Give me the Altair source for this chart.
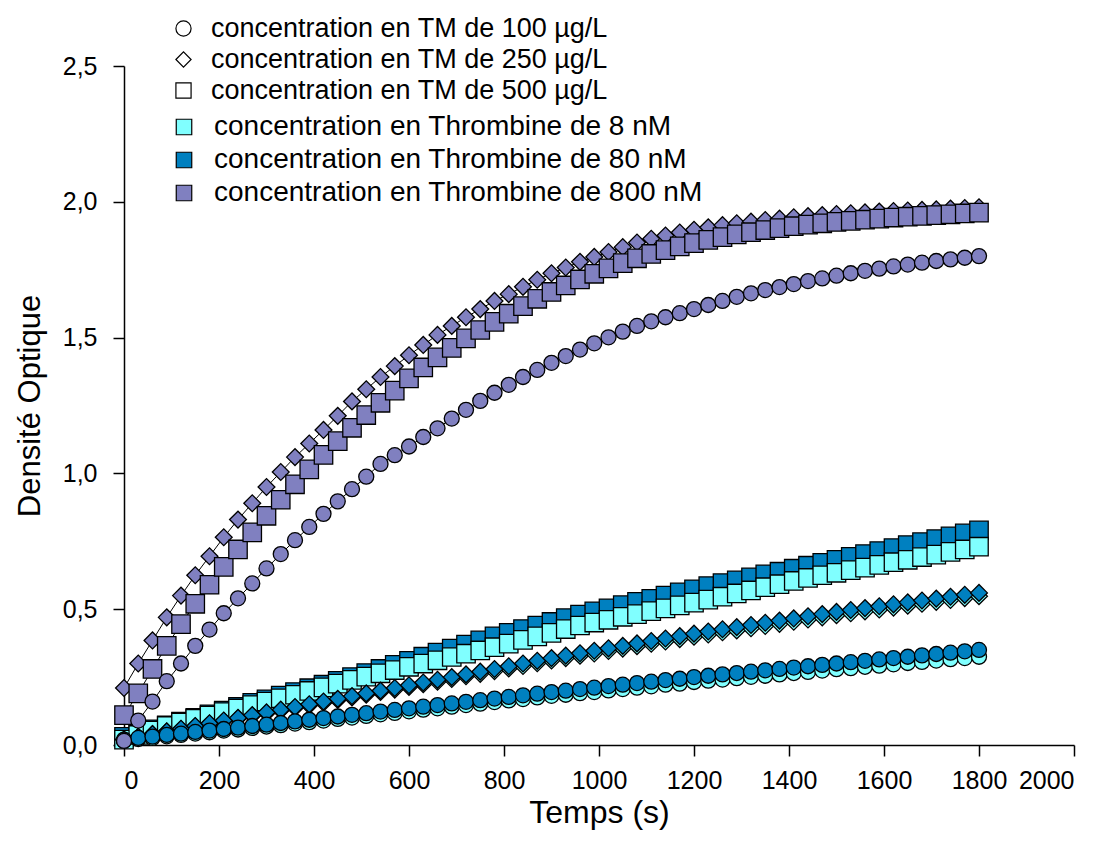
import altair as alt
import pandas as pd

times = list(range(0, 1801, 30))

tm_labels = ["concentration en TM de 100 µg/L",
             "concentration en TM de 250 µg/L",
             "concentration en TM de 500 µg/L"]
thr_labels = ["concentration en Thrombine de 8 nM",
              "concentration en Thrombine de 80 nM",
              "concentration en Thrombine de 800 nM"]

# Thrombine 800 nM
p100 = [0.015, 0.09, 0.16, 0.235, 0.30, 0.365, 0.425, 0.485, 0.54, 0.595, 0.65, 0.703, 0.754, 0.803, 0.851,
        0.897, 0.942, 0.988, 1.035, 1.067, 1.099, 1.134, 1.166, 1.202, 1.234, 1.267, 1.297, 1.326, 1.355,
        1.381, 1.407, 1.432, 1.456, 1.479, 1.501, 1.522, 1.543, 1.56, 1.575, 1.59, 1.605, 1.62, 1.635, 1.65,
        1.663, 1.675, 1.686, 1.697, 1.708, 1.718, 1.728, 1.737, 1.746, 1.754, 1.762, 1.769, 1.776, 1.782,
        1.788, 1.794, 1.80]
p250 = [0.21, 0.30, 0.385, 0.47, 0.55, 0.625, 0.695, 0.765, 0.83, 0.89, 0.95, 1.005, 1.06, 1.11, 1.16,
        1.212, 1.265, 1.31, 1.355, 1.395, 1.435, 1.473, 1.51, 1.543, 1.575, 1.605, 1.635, 1.66, 1.687, 1.713,
        1.737, 1.758, 1.779, 1.797, 1.815, 1.833, 1.85, 1.864, 1.876, 1.887, 1.897, 1.906, 1.914, 1.921,
        1.927, 1.933, 1.938, 1.943, 1.947, 1.951, 1.955, 1.958, 1.961, 1.964, 1.966, 1.968, 1.97, 1.972,
        1.975, 1.977, 1.98]
p500 = [0.11, 0.19, 0.28, 0.365, 0.445, 0.52, 0.59, 0.656, 0.72, 0.783, 0.844, 0.903, 0.96, 1.015, 1.068,
        1.119, 1.168, 1.215, 1.26, 1.305, 1.35, 1.39, 1.427, 1.462, 1.497, 1.528, 1.558, 1.588, 1.616,
        1.643, 1.668, 1.692, 1.714, 1.735, 1.755, 1.774, 1.792, 1.808, 1.822, 1.836, 1.848, 1.86, 1.87,
        1.88, 1.888, 1.896, 1.903, 1.91, 1.916, 1.921, 1.926, 1.93, 1.934, 1.938, 1.942, 1.945, 1.948,
        1.951, 1.954, 1.957, 1.96]
# Thrombine 80 nM
b100 = [0.02, 0.026, 0.031, 0.037, 0.042, 0.048, 0.053, 0.059, 0.064, 0.07, 0.075, 0.081, 0.087, 0.093,
        0.099, 0.105, 0.111, 0.117, 0.123, 0.129, 0.135, 0.141, 0.147, 0.153, 0.159, 0.165, 0.171, 0.177,
        0.183, 0.189, 0.195, 0.2, 0.206, 0.211, 0.217, 0.222, 0.228, 0.233, 0.239, 0.244, 0.25, 0.255,
        0.26, 0.265, 0.27, 0.275, 0.28, 0.285, 0.29, 0.295, 0.30, 0.305, 0.31, 0.315, 0.32, 0.325, 0.33,
        0.335, 0.34, 0.345, 0.35]
b250 = [0.02, 0.03, 0.04, 0.05, 0.06, 0.07, 0.08, 0.09, 0.10, 0.11, 0.12, 0.13, 0.14, 0.15, 0.16, 0.17,
        0.18, 0.19, 0.20, 0.21, 0.22, 0.23, 0.24, 0.25, 0.26, 0.27, 0.28, 0.29, 0.30, 0.31, 0.32, 0.329,
        0.338, 0.347, 0.356, 0.365, 0.374, 0.383, 0.392, 0.401, 0.41, 0.418, 0.426, 0.434, 0.442, 0.45,
        0.458, 0.466, 0.474, 0.482, 0.49, 0.497, 0.504, 0.511, 0.518, 0.525, 0.532, 0.539, 0.546, 0.553,
        0.56]
b500 = [0.03, 0.045, 0.058, 0.072, 0.086, 0.10, 0.113, 0.127, 0.14, 0.155, 0.168, 0.182, 0.195, 0.209,
        0.222, 0.236, 0.25, 0.265, 0.28, 0.295, 0.31, 0.325, 0.34, 0.355, 0.37, 0.385, 0.40, 0.413, 0.427,
        0.44, 0.453, 0.467, 0.48, 0.492, 0.503, 0.515, 0.527, 0.538, 0.55, 0.562, 0.573, 0.585, 0.596,
        0.606, 0.617, 0.628, 0.638, 0.649, 0.66, 0.671, 0.682, 0.693, 0.703, 0.714, 0.725, 0.736, 0.747,
        0.758, 0.768, 0.779, 0.79]
# Thrombine 8 nM
c100 = [0.016, 0.022, 0.026, 0.032, 0.037, 0.042, 0.047, 0.053, 0.057, 0.063, 0.068, 0.073, 0.079, 0.084,
        0.090, 0.096, 0.101, 0.107, 0.113, 0.118, 0.124, 0.130, 0.135, 0.141, 0.147, 0.152, 0.158, 0.164,
        0.169, 0.175, 0.181, 0.185, 0.191, 0.195, 0.201, 0.206, 0.211, 0.216, 0.222, 0.226, 0.232, 0.237,
        0.241, 0.246, 0.251, 0.255, 0.260, 0.265, 0.269, 0.274, 0.279, 0.283, 0.288, 0.292, 0.297, 0.302,
        0.306, 0.311, 0.316, 0.320, 0.325]
c250 = [0.02, 0.03, 0.04, 0.049, 0.059, 0.069, 0.079, 0.088, 0.098, 0.108, 0.117, 0.127, 0.137, 0.146,
        0.156, 0.166, 0.175, 0.185, 0.195, 0.204, 0.214, 0.224, 0.233, 0.243, 0.253, 0.262, 0.272, 0.282,
        0.291, 0.301, 0.311, 0.32, 0.329, 0.337, 0.346, 0.355, 0.364, 0.373, 0.381, 0.39, 0.399, 0.407,
        0.415, 0.422, 0.43, 0.438, 0.446, 0.454, 0.462, 0.47, 0.478, 0.485, 0.492, 0.499, 0.506, 0.513,
        0.52, 0.527, 0.534, 0.541, 0.548]
c500 = [0.02, 0.037, 0.053, 0.07, 0.083, 0.096, 0.108, 0.121, 0.134, 0.147, 0.16, 0.172, 0.185, 0.199,
        0.212, 0.226, 0.24, 0.252, 0.264, 0.276, 0.288, 0.30, 0.312, 0.324, 0.336, 0.348, 0.36, 0.373,
        0.387, 0.40, 0.413, 0.427, 0.44, 0.451, 0.461, 0.472, 0.482, 0.493, 0.503, 0.514, 0.524, 0.535,
        0.546, 0.558, 0.569, 0.581, 0.592, 0.604, 0.615, 0.625, 0.634, 0.644, 0.653, 0.663, 0.673, 0.682,
        0.692, 0.701, 0.711, 0.72, 0.73]

# drawing order (bottom first): (values, TM index, Thrombine index)
series = [
    (b500, 2, 1), (c500, 2, 0), (c250, 1, 0), (b250, 1, 1),
    (c100, 0, 0), (b100, 0, 1), (p250, 1, 2), (p500, 2, 2), (p100, 0, 2),
]

rows = []
order = 0
for sid, (vals, tmi, thi) in enumerate(series):
    assert len(vals) == len(times)
    for t, v in zip(times, vals):
        rows.append({"t": t, "od": v, "tm": tm_labels[tmi], "tmsz": str(tmi),
                     "thr": thr_labels[thi], "sid": sid, "ord": order})
        order += 1
df = pd.DataFrame(rows)

FONT = "Liberation Sans, Arial, Helvetica, sans-serif"

x = alt.X("t:Q", scale=alt.Scale(domain=[0, 2000], nice=False),
          axis=alt.Axis(title="Temps (s)", values=list(range(0, 2001, 200)), format="d",
                        grid=False, tickSize=11, labelPadding=12, titlePadding=4,
                        titleFontSize=32))
y = alt.Y("od:Q", scale=alt.Scale(domain=[0, 2.5], nice=False),
          axis=alt.Axis(title="Densité Optique", values=[0, 0.5, 1.0, 1.5, 2.0, 2.5],
                        labelExpr="replace(format(datum.value, '.1f'), '.', ',')",
                        grid=False, tickSize=11, labelPadding=16, titlePadding=16,
                        titleFontSize=31))

lines = alt.Chart(df).mark_line(color="black", strokeWidth=1).encode(
    x=x, y=y, detail="sid:N", order="t:Q")

points = alt.Chart(df).mark_point(filled=True, stroke="black", strokeWidth=1.3, opacity=1).encode(
    x=x, y=y,
    shape=alt.Shape("tm:N", scale=alt.Scale(domain=tm_labels, range=["circle", "diamond", "square"]),
                    legend=alt.Legend(title=None, orient="none", legendX=46, legendY=-51,
                                      symbolFillColor="white", symbolStrokeColor="black",
                                      symbolStrokeWidth=1.2, symbolSize=230, rowPadding=3,
                                      labelOffset=14, labelFontSize=27)),
    fill=alt.Fill("thr:N", scale=alt.Scale(domain=thr_labels, range=["#80FFFF", "#0080C0", "#8080C0"]),
                  legend=alt.Legend(title=None, orient="none", legendX=46, legendY=47,
                                    symbolType="square", symbolStrokeColor="black",
                                    symbolStrokeWidth=1.2, symbolSize=240, rowPadding=5,
                                    labelOffset=16, labelFontSize=28)),
    size=alt.Size("tmsz:N", scale=alt.Scale(domain=["0", "1", "2"], range=[225, 340, 190]), legend=None),
    order=alt.Order("ord:Q"),
)

chart = (lines + points).properties(
    width=950, height=679,
    autosize=alt.AutoSizeParams(type="none"),
    padding={"left": 116, "top": 58, "right": 15, "bottom": 90},
).configure_view(stroke=None).configure_axis(
    domainColor="black", domainWidth=1.5, tickColor="black", tickWidth=1.5,
    labelFont=FONT, labelFontSize=25, labelColor="black",
    titleFont=FONT, titleFontWeight="normal", titleColor="black",
).configure_legend(
    labelFont=FONT, labelColor="black", labelLimit=700,
)

chart.save("out.html", embed_options={"renderer": "svg", "actions": False})
